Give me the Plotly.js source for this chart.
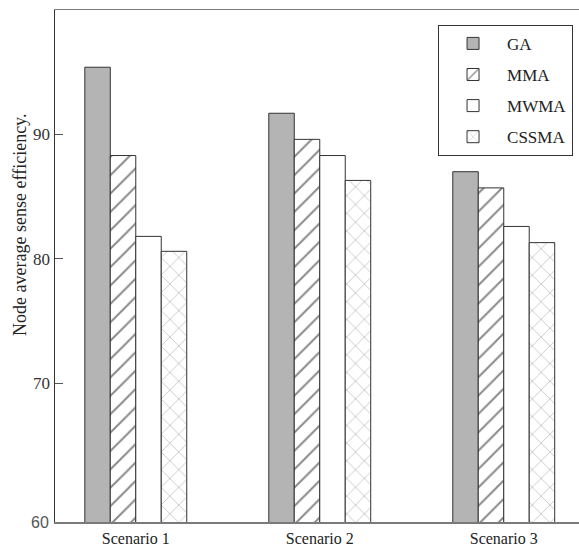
<!DOCTYPE html>
<html>
<head>
<meta charset="utf-8">
<script src="https://cdn.plot.ly/plotly-3.0.1.min.js"></script>
<style>html,body{margin:0;padding:0;background:#fff;overflow:hidden}</style>
</head>
<body>
<div id="chart" style="width:579px;height:549px"></div>
<script>
const scenarios = ["Scenario 1", "Scenario 2", "Scenario 3"];
const seriesNames = ["GA", "MMA", "MWMA", "CSSMA"];
const gaValues    = [95.4, 91.7, 87.0];
const mmaValues   = [88.3, 89.6, 85.7];
const mwmaValues  = [81.8, 88.3, 82.6];
const cssmaValues = [80.6, 86.3, 81.3];
const yTickValues = [70, 80, 90];
const yTitle = "Node average sense efficiency.";
const bottomLabel = "60";

const serif = "Liberation Serif, Times New Roman, serif";
const outline = {color: "#333333", width: 1};

const styles = [
  {color: "#b4b4b4", line: outline},
  {color: "#ffffff", line: outline, pattern: {shape: "/", fgcolor: "#111111", bgcolor: "#ffffff", size: 13, solidity: 0.15, fillmode: "overlay"}},
  {color: "#ffffff", line: outline},
  {color: "#ffffff", line: outline, pattern: {shape: "x", fgcolor: "#999999", bgcolor: "#ffffff", size: 12.5, solidity: 0.15, fillmode: "overlay"}}
];
const allValues = [gaValues, mmaValues, mwmaValues, cssmaValues];

const data = seriesNames.map((name, i) => ({
  type: "bar",
  name: name,
  x: scenarios,
  y: allValues[i],
  marker: styles[i],
  legendgroup: name,
  hoverinfo: "x+y+name"
}));

const layout = {
  width: 579,
  height: 549,
  margin: {l: 55, r: 0, t: 10, b: 27},
  paper_bgcolor: "#ffffff",
  plot_bgcolor: "#ffffff",
  barmode: "group",
  bargap: 0.446,
  bargroupgap: 0,
  font: {family: serif, size: 17, color: "#222222"},
  xaxis: {
    type: "category",
    range: [-0.439, 2.409],
    showline: true,
    mirror: true,
    linecolor: "#7a7a7a",
    linewidth: 1.5,
    ticks: "",
    showgrid: false,
    zeroline: false,
    ticklabelstandoff: 1,
    tickfont: {family: serif, size: 16, color: "#222222"}
  },
  yaxis: {
    range: [58.84, 100],
    tickvals: yTickValues,
    showline: true,
    linecolor: "#333333",
    linewidth: 1.5,
    ticks: "inside",
    ticklen: 8,
    tickcolor: "#555555",
    tickwidth: 1,
    showgrid: false,
    zeroline: false,
    ticklabelstandoff: 0,
    tickfont: {family: serif, size: 17, color: "#333333"}
  },
  legend: {
    x: 0.731,
    y: 0.971,
    xanchor: "left",
    yanchor: "top",
    bgcolor: "#ffffff",
    bordercolor: "#333333",
    borderwidth: 1,
    tracegroupgap: 6,
    font: {family: serif, size: 17, color: "#222222"},
    itemwidth: 58
  },
  annotations: [
    {
      text: yTitle, textangle: -90,
      xref: "paper", yref: "paper", x: -0.067, y: 0.58,
      xanchor: "center", yanchor: "middle", showarrow: false,
      font: {family: serif, size: 18, color: "#222222"}
    },
    {
      text: bottomLabel,
      xref: "paper", yref: "paper", x: 0, y: 0,
      xanchor: "right", yanchor: "middle", xshift: -4, showarrow: false,
      font: {family: "Liberation Sans, Arial, sans-serif", size: 16, color: "#555555"}
    }
  ],
  showlegend: true
};

Plotly.newPlot("chart", data, layout, {displayModeBar: false, staticPlot: true});
</script>
</body>
</html>
